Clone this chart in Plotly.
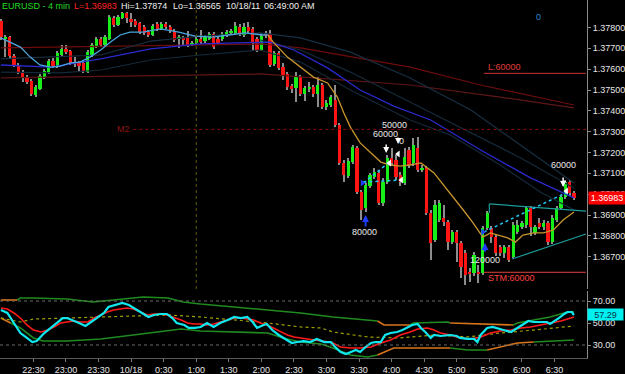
import plotly.graph_objects as go

# ---------------- DATA ----------------
# 4-minute EURUSD bars, first bar opens 22:00 (x = minutes after 22:00)
bar_minutes = 4
opens = [1.37831,1.37745,1.37754,1.37663,1.37620,1.37586,1.37562,1.37543,1.37476,1.37505,
         1.37562,1.37582,1.37639,1.37610,1.37668,1.37697,1.37687,1.37634,1.37630,1.37630,
         1.37586,1.37668,1.37706,1.37745,1.37716,1.37745,1.37846,1.37812,1.37846,1.37870,
         1.37841,1.37831,1.37822,1.37802,1.37778,1.37764,1.37817,1.37793,1.37817,1.37802,
         1.37783,1.37745,1.37750,1.37750,1.37716,1.37726,1.37745,1.37735,1.37745,1.37769,
         1.37745,1.37745,1.37764,1.37774,1.37774,1.37802,1.37764,1.37802,1.37793,1.37745,
         1.37692,1.37774,1.37769,1.37625,1.37678,1.37610,1.37577,1.37519,1.37510,1.37562,
         1.37481,1.37505,1.37514,1.37481,1.37524,1.37418,1.37428,1.37452,1.37332,1.37150,
         1.37087,1.37154,1.37222,1.37010,1.36934,1.37039,1.37082,1.37102,1.36958,1.37058,
         1.37174,1.37164,1.37092,1.37054,1.37212,1.37150,1.37222,1.37116,1.37126,1.36910,
         1.36780,1.36876,1.36886,1.36866,1.36770,1.36818,1.36766,1.36718,1.36626,1.36622,
         1.36626,1.36622,1.36838,1.36838,1.36794,1.36746,1.36718,1.36746,1.36698,1.36818,
         1.36842,1.36852,1.36934,1.36814,1.36862,1.36842,1.36862,1.36770,1.36876,1.36934,
         1.36986,1.37058,1.37006]
highs = [1.37841,1.37764,1.37759,1.37673,1.37630,1.37596,1.37572,1.37553,1.37524,1.37577,
         1.37601,1.37649,1.37654,1.37687,1.37716,1.37716,1.37692,1.37658,1.37639,1.37639,
         1.37692,1.37726,1.37754,1.37754,1.37764,1.37860,1.37855,1.37860,1.37874,1.37874,
         1.37870,1.37841,1.37826,1.37812,1.37788,1.37817,1.37826,1.37826,1.37826,1.37812,
         1.37793,1.37764,1.37759,1.37783,1.37735,1.37754,1.37788,1.37764,1.37778,1.37778,
         1.37754,1.37778,1.37788,1.37793,1.37826,1.37817,1.37822,1.37826,1.37802,1.37754,
         1.37774,1.37783,1.37788,1.37687,1.37687,1.37630,1.37586,1.37529,1.37586,1.37572,
         1.37519,1.37538,1.37524,1.37562,1.37534,1.37452,1.37476,1.37524,1.37342,1.37164,
         1.37174,1.37236,1.37231,1.37020,1.37054,1.37102,1.37126,1.37111,1.37078,1.37188,
         1.37222,1.37188,1.37106,1.37222,1.37226,1.37270,1.37274,1.37140,1.37135,1.36924,
         1.36972,1.36972,1.36948,1.36876,1.36828,1.36828,1.36775,1.36732,1.36646,1.36722,
         1.36660,1.36847,1.36919,1.36847,1.36804,1.36756,1.36756,1.36756,1.36866,1.36876,
         1.36871,1.36943,1.36943,1.36852,1.36886,1.36876,1.36871,1.36900,1.36943,1.36996,
         1.37068,1.37068,1.37015]
lows = [1.37740,1.37658,1.37654,1.37610,1.37577,1.37538,1.37529,1.37471,1.37466,1.37500,
        1.37553,1.37577,1.37606,1.37606,1.37663,1.37673,1.37620,1.37610,1.37586,1.37582,
        1.37582,1.37658,1.37702,1.37706,1.37711,1.37740,1.37802,1.37807,1.37841,1.37822,
        1.37802,1.37802,1.37769,1.37764,1.37754,1.37759,1.37783,1.37788,1.37793,1.37774,
        1.37730,1.37702,1.37716,1.37706,1.37711,1.37716,1.37721,1.37726,1.37740,1.37697,
        1.37716,1.37735,1.37754,1.37769,1.37764,1.37759,1.37754,1.37774,1.37692,1.37682,
        1.37687,1.37750,1.37610,1.37615,1.37596,1.37548,1.37500,1.37486,1.37442,1.37471,
        1.37447,1.37490,1.37466,1.37418,1.37409,1.37404,1.37418,1.37322,1.37140,1.37058,
        1.37078,1.37145,1.37001,1.36876,1.36914,1.37030,1.37073,1.36948,1.36943,1.37049,
        1.37135,1.37068,1.37039,1.37044,1.37126,1.37135,1.37106,1.37106,1.36900,1.36684,
        1.36770,1.36866,1.36847,1.36732,1.36761,1.36674,1.36598,1.36565,1.36578,1.36607,
        1.36574,1.36612,1.36828,1.36766,1.36703,1.36703,1.36694,1.36674,1.36694,1.36809,
        1.36833,1.36838,1.36799,1.36804,1.36833,1.36828,1.36756,1.36761,1.36866,1.36924,
        1.36977,1.36991,1.36972]
closes = [1.37754,1.37754,1.37663,1.37620,1.37586,1.37562,1.37538,1.37481,1.37514,1.37567,
          1.37591,1.37639,1.37615,1.37678,1.37697,1.37682,1.37630,1.37625,1.37615,1.37591,
          1.37682,1.37716,1.37745,1.37716,1.37754,1.37850,1.37812,1.37850,1.37870,1.37846,
          1.37826,1.37812,1.37778,1.37774,1.37764,1.37807,1.37793,1.37817,1.37802,1.37783,
          1.37740,1.37754,1.37740,1.37716,1.37726,1.37745,1.37730,1.37754,1.37769,1.37706,
          1.37726,1.37769,1.37778,1.37783,1.37807,1.37769,1.37802,1.37783,1.37730,1.37692,
          1.37759,1.37759,1.37620,1.37678,1.37606,1.37572,1.37514,1.37505,1.37562,1.37481,
          1.37510,1.37514,1.37481,1.37524,1.37418,1.37438,1.37466,1.37332,1.37150,1.37092,
          1.37159,1.37226,1.37010,1.36924,1.37044,1.37092,1.37106,1.36958,1.37058,1.37174,
          1.37150,1.37082,1.37058,1.37178,1.37140,1.37236,1.37116,1.37126,1.36910,1.36766,
          1.36948,1.36958,1.36866,1.36770,1.36818,1.36766,1.36650,1.36612,1.36617,1.36708,
          1.36617,1.36838,1.36910,1.36794,1.36718,1.36718,1.36746,1.36684,1.36852,1.36852,
          1.36862,1.36934,1.36842,1.36842,1.36842,1.36862,1.36770,1.36886,1.36934,1.36986,
          1.37058,1.37006,1.36983]

# moving averages (minutes after 22:00, price)
fast_ma_a_t = [0,18,27,36,46,55,64,73,82,92,101,110,119,131,147,164,179,195,210,225,241,246]
fast_ma_a_p = [1.37750,1.37706,1.37658,1.37620,1.37610,1.37615,1.37630,1.37634,1.37658,1.37692,
               1.37730,1.37764,1.37778,1.37778,1.37793,1.37778,1.37759,1.37754,1.37764,1.37774,
               1.37764,1.37764]
fast_ma_b_t = [246,251,264,270,279,288,301,310,316,322,331,341,350,359,368,377,387,399,408,417,
               426,435,444,451,458,467,474,481,491,500,509,518,528]
fast_ma_b_p = [1.37764,1.37730,1.37658,1.37634,1.37596,1.37562,1.37534,1.37466,1.37390,1.37322,
               1.37246,1.37198,1.37154,1.37140,1.37135,1.37140,1.37150,1.37102,1.37044,1.36986,
               1.36924,1.36862,1.36794,1.36814,1.36804,1.36790,1.36770,1.36804,1.36814,1.36814,
               1.36828,1.36876,1.36914]
blue_ma_t = [0,46,92,138,184,230,248,270,301,331,362,396,442,488,528]
blue_ma_p = [1.37620,1.37610,1.37649,1.37697,1.37721,1.37730,1.37730,1.37692,1.37606,1.37500,
             1.37423,1.37356,1.37212,1.37078,1.36982]
slate1_t = [0,92,138,184,239,276,322,377,433,479,528]
slate1_p = [1.37649,1.37668,1.37735,1.37759,1.37774,1.37750,1.37682,1.37558,1.37404,1.37236,1.37054]
slate2_t = [0,55,92,138,184,239,276,322,377,414,460,497,528]
slate2_p = [1.37586,1.37582,1.37596,1.37644,1.37668,1.37692,1.37634,1.37500,1.37356,1.37284,
            1.37140,1.37010,1.36924]
slate3_t = [239,276,322,377,423,479,528]
slate3_p = [1.37740,1.37692,1.37586,1.37442,1.37318,1.37174,1.37030]
darkred1_t = [0,138,239,276,338,377,442,528]
darkred1_p = [1.37702,1.37711,1.37721,1.37702,1.37644,1.37610,1.37524,1.37428]
darkred2_t = [0,138,239,377,460,528]
darkred2_p = [1.37558,1.37567,1.37577,1.37524,1.37466,1.37414]

# levels and drawings
m2_level, m2_start = 1.37311, 122
l_level, l_start = 1.37580, 445
stm_level, stm_start = 1.36625, 445
tri_upper_t, tri_upper_p = [450, 539], [1.36953, 1.36919]
tri_lower_t, tri_lower_p = [471, 539], [1.36689, 1.36809]
tri_edge_t, tri_edge_p = [450, 450], [1.36953, 1.36910]
sig_lines = [([334, 357], [1.37054, 1.37150]),
             ([334, 368], [1.37058, 1.37068]),
             ([445, 522], [1.36818, 1.37010])]
blue_up_arrows = [(336, 1.36900, 1.36838), (446, 1.36766, 1.36718)]   # (t, head, tail)
white_down_arrows = [(355, 1.37198, 1.37246), (366, 1.37241, 1.37279), (518, 1.37034, 1.37087)]
blue_tri_t, blue_tri_p = [333, 444], [1.37054, 1.36818]
white_tri_t, white_tri_p = [358, 369, 366, 521], [1.37150, 1.37068, 1.37193, 1.37015]
size_labels = [("50000", 363, 1.37332), ("60000", 354, 1.37289), ("0", 369, 1.37255),
               ("80000", 335, 1.36818), ("120000", 446, 1.36684), ("60000", 518, 1.37140)]

# oscillator (minutes, value)
osc_t = [0,6,12,18,24,29,33,40,46,52,57,61,66,72,78,83,89,95,99,106,112,118,124,130,136,141,147,
         153,158,162,169,173,179,184,190,196,202,209,215,221,227,232,236,242,245,250,256,262,268,
         273,279,285,291,298,304,308,313,318,322,327,331,336,341,345,350,354,359,365,370,374,379,
         384,387,391,396,399,405,414,420,423,430,436,439,442,448,453,457,463,470,476,482,486,491,
         497,503,506,509,514,519,522,526,528]
osc_v = [61.8,59.1,50.0,40.9,36.4,32.7,33.6,40.9,45.5,50.0,54.5,54.5,52.7,50.0,47.3,50.9,55.5,
         59.1,64.5,66.4,68.2,66.4,62.7,59.1,55.5,57.3,58.2,58.2,54.5,50.0,48.2,45.5,45.5,46.4,
         50.0,46.4,50.0,52.7,55.5,54.5,55.5,50.9,45.5,48.2,49.1,43.6,39.1,35.5,31.8,32.7,33.6,
         32.7,35.5,32.7,32.7,28.2,23.6,21.8,23.6,25.5,23.6,28.2,31.8,32.7,32.7,39.1,40.9,41.8,
         43.6,45.5,48.2,49.1,45.5,41.8,36.4,39.1,38.2,39.1,38.2,36.4,35.5,35.5,32.7,39.1,45.5,
         46.4,45.5,43.6,41.8,45.5,50.0,51.8,50.9,50.9,50.9,49.1,50.9,54.5,58.2,60.0,60.0,57.29]
sig_t = [0,6,12,18,24,30,37,43,49,55,61,67,73,80,86,92,98,104,110,116,122,129,135,141,147,153,
         159,166,172,178,184,190,196,202,209,215,221,227,233,239,245,251,258,264,270,276,285,295,
         304,313,322,331,341,350,359,368,377,384,393,399,405,414,423,433,442,451,460,470,479,488,
         497,506,516,525,528]
sig_v = [63.6,62.7,59.1,54.5,48.2,43.6,41.8,43.6,46.4,50.0,50.9,51.8,50.9,50.9,54.5,57.3,60.0,
         61.8,62.7,63.6,62.7,60.0,57.3,58.2,58.2,57.3,55.5,52.7,50.0,49.1,49.1,48.2,49.1,50.9,
         52.7,54.5,54.5,53.6,52.7,50.0,48.2,45.5,41.8,39.1,37.3,36.4,34.5,33.6,32.7,28.2,27.3,
         27.3,28.2,31.8,34.5,39.1,41.8,44.5,45.5,43.6,40.9,39.1,36.4,35.5,37.3,40.9,42.7,43.6,
         45.5,46.4,48.2,50.0,51.8,54.5,55.5]
band_up_t = [0,15,18,30,61,85,101,117,131,154,168,184,214,246,276,306,338,347,353,377,380,412,
             414,445,472,476,491,506,522,528]
band_up_v = [70.9,70.9,72.7,72.7,71.8,69.1,70.9,72.7,73.6,72.7,69.1,67.3,64.5,61.8,59.1,55.5,
             52.7,51.8,48.2,48.2,50.0,50.9,50.0,49.1,48.2,50.0,52.7,55.5,60.0,60.0]
band_up_state = "o" + "g"*16 + "oo" + "ggg" + "oo" + "ggggg"
band_lo_t = [0,9,18,30,39,61,92,122,154,166,184,214,246,260,276,295,306,322,338,347,362,377,399,
             414,430,448,460,476,491,506,522,528]
band_lo_v = [54.5,50.0,45.5,36.4,33.6,33.6,35.5,39.1,42.7,44.5,42.7,41.8,40.9,36.4,32.7,30.9,
             27.3,20.9,19.1,20.9,27.3,27.3,27.3,27.3,25.5,25.5,28.2,31.8,32.7,33.6,34.5,34.5]
band_lo_state = "o" + "g"*18 + "oooo" + "gg" + "ooo" + "ggg"
mid_t = [0,18,30,61,92,122,154,184,214,246,276,295,306,338,368,399,430,460,491,522,528]
mid_v = [54.5,50.9,53.6,54.5,55.5,56.4,57.3,55.5,52.7,50.0,46.4,45.5,41.8,37.3,36.4,39.1,37.3,
         40.9,43.6,46.4,47.3]
osc_levels = [70, 30]

price_ticks = [1.367,1.368,1.369,1.370,1.371,1.372,1.373,1.374,1.375,1.376,1.377,1.378]
osc_ticks = [30, 50, 70]
time_tick_t = [30,60,90,120,150,180,210,240,270,300,330,360,390,420,450,480,510]
time_tick_labels = ["22:30","23:00","23:30","10/18","0:30","1:00","1:30","2:00","2:30","3:00",
                    "3:30","4:00","4:30","5:00","5:30","6:00","6:30"]
vline_t = 180  # 1:00 marker

# ---------------- FIGURE ----------------
FONT = "Liberation Sans, Arial, sans-serif"
n = len(closes)
times = [i * bar_minutes for i in range(n)]
fig = go.Figure()

def line(t, p, color, width=1, dash=None, yaxis="y"):
    fig.add_trace(go.Scatter(x=t, y=p, mode="lines", yaxis=yaxis, hoverinfo="skip",
                             line=dict(color=color, width=width, dash=dash)))

# slow MAs
line(darkred2_t, darkred2_p, "#5e1616", 1.2)
line(darkred1_t, darkred1_p, "#6e0c0c", 1.2)
line(slate2_t, slate2_p, "#14293a", 1.2)
line(slate3_t, slate3_p, "#14293a", 1.2)
line(slate1_t, slate1_p, "#172f42", 1.2)
line(blue_ma_t, blue_ma_p, "#2a2ad0", 1.3)
line(fast_ma_a_t, fast_ma_a_p, "#4aa6dd", 1.3)
line(fast_ma_b_t, fast_ma_b_p, "#c9962e", 1.3)

# drawings
line(tri_upper_t, tri_upper_p, "#1c9c9c", 1.2)
line(tri_lower_t, tri_lower_p, "#1c9c9c", 1.2)
line(tri_edge_t, tri_edge_p, "#1c9c9c", 1.2)
for st, sp in sig_lines:
    line(st, sp, "#22c8f0", 1.5, "dot")

# candles: wicks (thin bars) then bodies, all in the bar layer so bodies cover wicks
fig.add_trace(go.Bar(x=times, y=[highs[i] - lows[i] for i in range(n)], base=lows,
                     width=1.0, marker=dict(color="#8c8c8c", line=dict(width=0)),
                     hoverinfo="skip"))
min_body = 0.00004
for sel, col in ((lambda o, c: c >= o, "#18ee18"), (lambda o, c: c < o, "#ff1414")):
    idx = [i for i in range(n) if sel(opens[i], closes[i])]
    fig.add_trace(go.Bar(x=[times[i] for i in idx],
                         y=[max(abs(closes[i] - opens[i]), min_body) for i in idx],
                         base=[min(opens[i], closes[i]) for i in idx],
                         width=3, marker=dict(color=col, line=dict(width=0)),
                         hoverinfo="skip"))

# markers
fig.add_trace(go.Scatter(x=blue_tri_t, y=blue_tri_p, mode="markers", hoverinfo="skip",
                         marker=dict(symbol="triangle-right", size=6, color="#2040ff")))
fig.add_trace(go.Scatter(x=white_tri_t, y=white_tri_p, mode="markers", hoverinfo="skip",
                         marker=dict(symbol="triangle-left", size=6, color="#ffffff")))

# oscillator
def runs(ts, vs, state):
    out, s = [], 0
    for i in range(1, len(state) + 1):
        if i == len(state) or state[i] != state[s]:
            out.append((state[s], ts[s:i + 1], vs[s:i + 1]))
            s = i
    return out

for bt, bv, bs in ((band_up_t, band_up_v, band_up_state), (band_lo_t, band_lo_v, band_lo_state)):
    for st, tt, vv in runs(bt, bv, bs):
        line(tt, vv, "#1f8a1f" if st == "g" else "#d8741c", 1.6, yaxis="y2")
line(mid_t, mid_v, "#a0a000", 1.2, "dot", yaxis="y2")
line(sig_t, sig_v, "#ff1a1a", 1.6, yaxis="y2")
line(osc_t, osc_v, "#10e8f0", 2.2, yaxis="y2")

# ---------------- LAYOUT ----------------
H_PLOT = 358.0
main_bottom = 1 - 289 / H_PLOT
osc_top = (H_PLOT - 291) / H_PLOT
x_range = [-0.8, 540]

shapes = []
for lv in osc_levels:
    shapes.append(dict(type="line", xref="paper", x0=0, x1=1, yref="y2", y0=lv, y1=lv,
                       line=dict(color="#6a6a6a", width=1, dash="dot")))
shapes.append(dict(type="line", xref="x", x0=m2_start, x1=x_range[1], yref="y", y0=m2_level,
                   y1=m2_level, line=dict(color="#8a0c0c", width=1, dash="dot")))
shapes.append(dict(type="line", xref="x", x0=vline_t, x1=vline_t, yref="paper", y0=main_bottom,
                   y1=1, line=dict(color="#5c5c00", width=1, dash="dot")))
shapes.append(dict(type="line", xref="x", x0=l_start, x1=539, yref="y", y0=l_level, y1=l_level,
                   line=dict(color="#c83232", width=1)))
shapes.append(dict(type="line", xref="x", x0=stm_start, x1=539, yref="y", y0=stm_level,
                   y1=stm_level, line=dict(color="#e04040", width=1)))

ann = []
def text(s, x, y, color, xanchor="center", xref="x", yref="y", size=9):
    ann.append(dict(text=s, x=x, y=y, xref=xref, yref=yref, showarrow=False, xanchor=xanchor,
                    yanchor="middle", font=dict(color=color, size=size, family=FONT)))

# header
hdr_y = 1 - 6 / H_PLOT
header = [("EURUSD - 4 min", 0, "#22dd22"),
          ("L=%.5f" % closes[-1], 72, "#ff2424"),
          ("Hi=%.5f" % max(highs), 119, "#f0f0f0"),
          ("Lo=%.5f" % min(lows), 171, "#f0f0f0"),
          ("10/18/11", 224, "#f0f0f0"),
          ("06:49:00 AM", 262, "#f0f0f0")]
for s, px, col in header:
    text(s, px / 587.0, hdr_y, col, "left", "paper", "paper")

for s, t, p in size_labels:
    text(s, t, p, "#e8e8e8")
text("0", 495, 1.37850, "#2a8ad4")
text("L:60000", 447, 1.37610, "#e03c3c", "left")
text("STM:60000", 447, 1.36599, "#ff4040", "left")
text("M2", 121, m2_level, "#8e1414", "right")

for t, head, tail in blue_up_arrows:
    ann.append(dict(x=t, y=head, ax=t, ay=tail, xref="x", yref="y", axref="x", ayref="y",
                    text="", showarrow=True, arrowhead=2, arrowsize=0.7, arrowwidth=2,
                    arrowcolor="#1f3cff"))
for t, head, tail in white_down_arrows:
    ann.append(dict(x=t, y=head, ax=t, ay=tail, xref="x", yref="y", axref="x", ayref="y",
                    text="", showarrow=True, arrowhead=2, arrowsize=0.8, arrowwidth=1.5,
                    arrowcolor="#ffffff"))

# value boxes on the right axis
ann.append(dict(text="%.5f" % closes[-1], x=1, y=closes[-1], xref="paper", yref="y",
                showarrow=False, xanchor="left", yanchor="middle", xshift=1, width=34, height=10,
                bgcolor="#ff0000", borderpad=1, font=dict(color="#ffffff", size=9, family=FONT)))
ann.append(dict(text="%.2f" % osc_v[-1], x=1, y=osc_v[-1], xref="paper", yref="y2",
                showarrow=False, xanchor="left", yanchor="middle", xshift=0, width=33, height=9,
                bgcolor="#00f0f0", borderpad=1, font=dict(color="#083048", size=9, family=FONT)))

axis_font = dict(color="#e6e6e6", size=9, family=FONT)
fig.update_layout(
    width=625, height=374, margin=dict(l=0, r=38, t=0, b=16),
    paper_bgcolor="#000000", plot_bgcolor="#000000", showlegend=False,
    barmode="overlay", bargap=0, hovermode=False,
    font=dict(family=FONT, color="#e6e6e6", size=9),
    xaxis=dict(range=x_range, domain=[0, 1], anchor="y2", tickmode="array",
               tickvals=time_tick_t, ticktext=time_tick_labels, showgrid=False, zeroline=False,
               showline=True, linecolor="#5a5a5a", linewidth=1, ticks="outside", ticklen=3,
               tickcolor="#7a7a7a", tickfont=axis_font),
    yaxis=dict(domain=[main_bottom, 1], range=[1.365448, 1.37932], side="right", anchor="x",
               tickmode="array", tickvals=price_ticks, ticktext=["%.5f" % v for v in price_ticks],
               showgrid=False, zeroline=False, showline=True, linecolor="#8a8a8a", ticks="outside",
               ticklen=3, tickcolor="#8a8a8a", tickfont=axis_font),
    yaxis2=dict(domain=[0, osc_top], range=[18.18, 79.09], side="right", anchor="x",
                tickmode="array", tickvals=osc_ticks, ticktext=["%.2f" % v for v in osc_ticks],
                showgrid=False, zeroline=False, showline=True, linecolor="#8a8a8a", ticks="outside",
                ticklen=3, tickcolor="#8a8a8a", tickfont=axis_font),
    shapes=shapes, annotations=ann,
)

fig.write_html("out.html")
